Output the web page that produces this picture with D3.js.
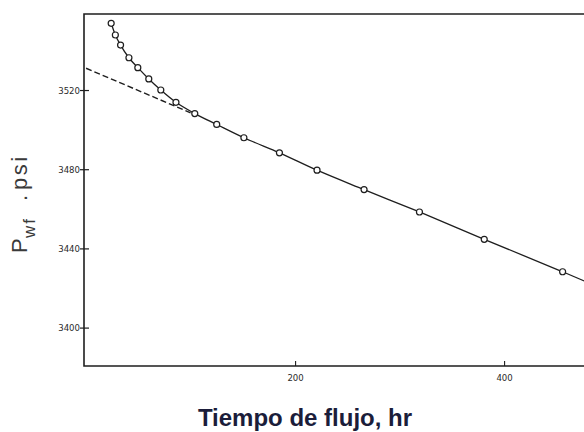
<!DOCTYPE html>
<html><head><meta charset="utf-8">
<script src="https://cdn.jsdelivr.net/npm/d3@7"></script>
<style>html,body{margin:0;padding:0;background:#fff;}svg{display:block;}</style>
</head><body>
<script>
// Data
const timeHr = [24, 28, 33, 41, 49.5, 60, 71.5, 86, 104, 125, 151, 185, 221, 266, 319, 381, 456];
const pwfPsi = [3553.7, 3547.8, 3542.7, 3536.3, 3531.3, 3525.6, 3520, 3513.8, 3508.1, 3502.6, 3495.9, 3488.3, 3479.5, 3469.7, 3458.4, 3444.6, 3428.2];
// extrapolated straight line (dashed) and its continuation past the last point
const dashT = [0, 100];
const dashP = [3531, 3508.5];
const extT = [456, 500];
const extP = [3428.2, 3418.3];
const yTicks = [3400, 3440, 3480, 3520];
const xTicks = [200, 400];
const xTickLabels = ["200", "400"];
const xTitle = "Tiempo de flujo, hr";

const W = 584, H = 432;
const svg = d3.select("body").append("svg").attr("width", W).attr("height", H);

const x = d3.scaleLinear().domain([-2, 500]).range([84, 84 + 502 * 1.045]);
const y = d3.scaleLinear().domain([3380.6, 3558.4]).range([366, 14]);

const ink = "#1e1e1e";
// frame
svg.append("path")
  .attr("d", `M${x.range()[1]},${y(3558.4)} H${x(-2)} V${y(3380.6)} H${x.range()[1]}`)
  .attr("fill", "none").attr("stroke", ink).attr("stroke-width", 1.6);

// y axis ticks
const yAxis = d3.axisLeft(y).tickValues(yTicks).tickSize(4).tickPadding(0).tickFormat(d3.format("d"));
const ga = svg.append("g").attr("transform", `translate(${x(-2)},0)`).call(yAxis);
ga.select(".domain").remove();
ga.selectAll(".tick line").attr("x2", -4).attr("x1", 5).attr("stroke", ink).attr("stroke-width", 1.2);
ga.selectAll(".tick text").attr("font-family", "DejaVu Sans Condensed, DejaVu Sans")
  .attr("font-size", 9.5).attr("fill", "#2a2a2a").attr("dy", "0.34em");

// x axis ticks
const xAxis = d3.axisBottom(x).tickValues(xTicks).tickSize(-5).tickPadding(8)
  .tickFormat((d, i) => xTickLabels[i]);
const gx = svg.append("g").attr("transform", `translate(0,${y(3380.6)})`).call(xAxis);
gx.select(".domain").remove();
gx.selectAll(".tick line").attr("stroke", ink).attr("stroke-width", 1.1);
gx.selectAll(".tick text").attr("font-family", "DejaVu Sans Condensed, DejaVu Sans")
  .attr("font-size", 9.5).attr("fill", "#2a2a2a");

const pts = timeHr.map((t, i) => [t, pwfPsi[i]]);
const line = d3.line().x(d => x(d[0])).y(d => y(d[1]));

// dashed extrapolation
svg.append("path").datum(dashT.map((t, i) => [t, dashP[i]]))
  .attr("d", line).attr("fill", "none").attr("stroke", ink)
  .attr("stroke-width", 1.4).attr("stroke-dasharray", "6,3");

// solid curve through data
svg.append("path").datum(pts)
  .attr("d", d3.line().x(d => x(d[0])).y(d => y(d[1])).curve(d3.curveMonotoneX))
  .attr("fill", "none").attr("stroke", ink).attr("stroke-width", 1.3);
svg.append("path").datum(extT.map((t, i) => [t, extP[i]]))
  .attr("d", line).attr("fill", "none").attr("stroke", ink).attr("stroke-width", 1.3);

// points
svg.append("g").selectAll("circle").data(pts).join("circle")
  .attr("cx", d => x(d[0])).attr("cy", d => y(d[1])).attr("r", 3)
  .attr("fill", "#fff").attr("stroke", ink).attr("stroke-width", 1.2);

// y title (rotated)
const yt = svg.append("text").attr("transform", "translate(27,253) rotate(-90)")
  .attr("font-family", "Liberation Sans, Arial, sans-serif").attr("font-size", 22).attr("fill", "#3a3a3a");
yt.append("tspan").attr("x", 0).attr("y", 0).text("P");
yt.append("tspan").attr("x", 15).attr("y", 8).attr("font-size", 17).attr("letter-spacing", 2).text("wf");
yt.append("tspan").attr("x", 52).attr("y", 0).text(".");
yt.append("tspan").attr("x", 63).attr("y", 0).attr("letter-spacing", 2.5).text("psi");

// x title
svg.append("text").attr("x", 305).attr("y", 426).attr("text-anchor", "middle")
  .attr("font-family", "Liberation Sans, Arial, sans-serif").attr("font-weight", "bold")
  .attr("font-size", 24).attr("fill", "#1b1d3a").text(xTitle);
</script>
</body></html>
